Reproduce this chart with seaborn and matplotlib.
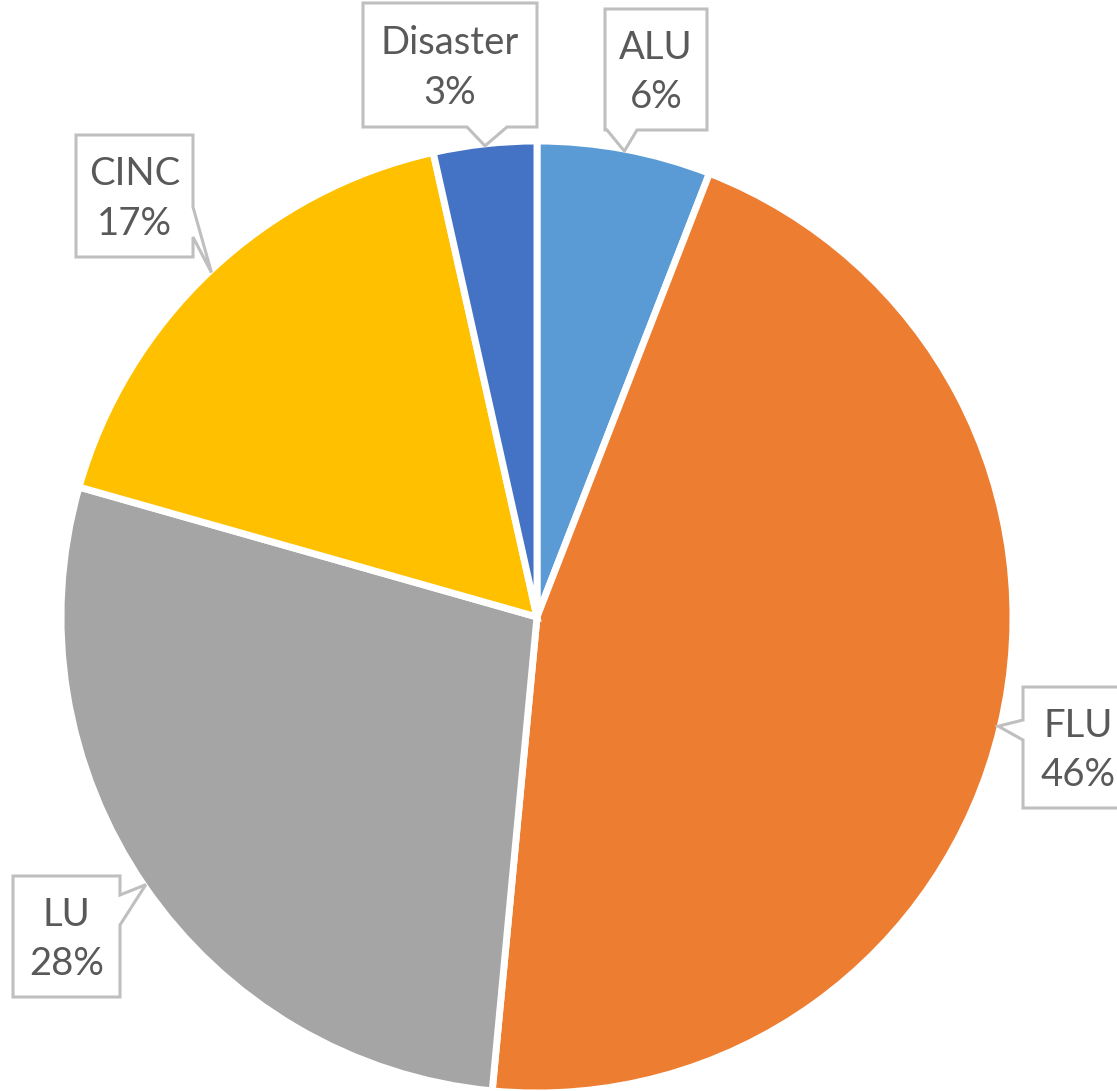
import numpy as np
import seaborn as sns
import matplotlib.pyplot as plt
from matplotlib.patches import Polygon

sns.set_theme(style="white")
plt.rcParams['font.family'] = ['Lato', 'DejaVu Sans']

# 데이터 (12시 방향부터 시계방향)
categories = ["ALU", "FLU", "LU", "CINC", "Disaster"]
shares = [5.9, 45.6, 27.9, 17.1, 3.5]
pct_labels = ["6%", "46%", "28%", "17%", "3%"]
colors = ["#5B9BD5", "#ED7D31", "#A5A5A5", "#FFC000", "#4472C4"]

W, H = 1117, 1091
fig = plt.figure(figsize=(W / 100, H / 100), dpi=100)
ax = fig.add_axes([0, 0, 1, 1])

cx, cy, r = 537, 617, 476
wedges, _ = ax.pie(shares, colors=colors, startangle=90, counterclock=False,
                   center=(cx, H - cy), radius=r,
                   wedgeprops=dict(edgecolor="white", linewidth=5))
ax.set_xlim(0, W)
ax.set_ylim(0, H)
ax.set_aspect("equal")
ax.axis("off")

# 콜아웃 박스 (픽셀 좌표: 왼쪽, 위, 너비, 높이, 꼬리 방향, 꼬리 시작, 꼬리 끝)
boxes = {
    "ALU": (605, 9, 102, 121, "bottom", 607, 637),
    "FLU": (1023, 687, 110, 121, "left", 720, 740),
    "LU": (13, 876, 107, 121, "right", 895, 925),
    "CINC": (76, 135, 117, 122, "right", 207, 237),
    "Disaster": (363, 3, 174, 124, "bottom", 467, 507),
}


def callout_poly(x0, y0, w, h, side, b1, b2, tip):
    x1, y1 = x0 + w, y0 + h
    pts = [(x0, y0)]
    if side == "top":
        pts += [(b1, y0), tip, (b2, y0)]
    pts += [(x1, y0)]
    if side == "right":
        pts += [(x1, b1), tip, (x1, b2)]
    pts += [(x1, y1)]
    if side == "bottom":
        pts += [(b2, y1), tip, (b1, y1)]
    pts += [(x0, y1)]
    if side == "left":
        pts += [(x0, b2), tip, (x0, b1)]
    return [(x, H - y) for x, y in pts]


for w, name, pct in zip(wedges, categories, pct_labels):
    mid = np.deg2rad((w.theta1 + w.theta2) / 2)
    tip = (cx + (r - 2) * np.cos(mid), cy - (r - 2) * np.sin(mid))
    x0, y0, bw, bh, side, b1, b2 = boxes[name]
    poly = Polygon(callout_poly(x0, y0, bw, bh, side, b1, b2, tip), closed=True,
                   facecolor="white", edgecolor="#BFBFBF", linewidth=2.2,
                   joinstyle="miter", zorder=5)
    ax.add_patch(poly)
    ax.text(x0 + bw / 2, H - (y0 + bh / 2 + 3), f"{name}\n{pct}", ha="center", va="center",
            fontsize=27.5, color="#595959", linespacing=1.45, zorder=6, clip_on=True)

plt.savefig("out.png", dpi=100)
